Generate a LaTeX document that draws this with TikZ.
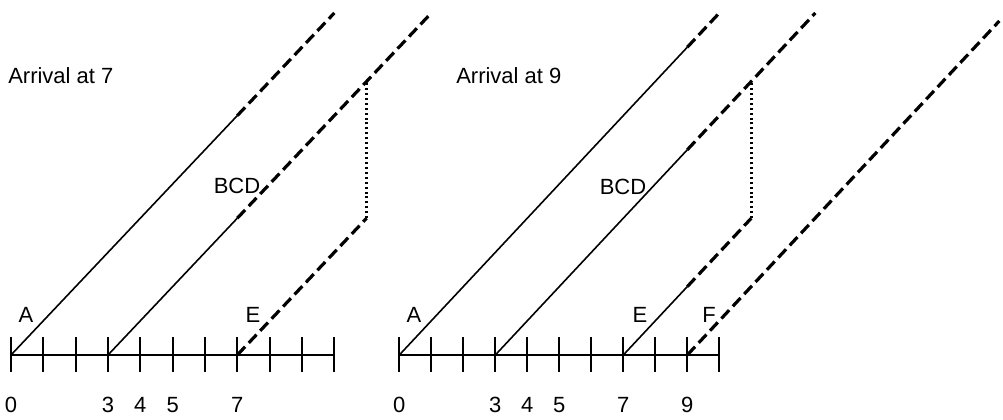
\documentclass[tikz,border=0pt]{standalone}
\usepackage{fontspec}
\setmainfont{Liberation Sans}
\begin{document}
\begin{tikzpicture}[x=0.75pt,y=-0.75pt,
  lbl/.style={inner sep=0pt,font=\fontsize{16.5}{19}\selectfont},
  axisline/.style={line width=2pt},
  tickline/.style={line width=1.5pt},
  run/.style={line width=1.2pt},
  wait/.style={line width=2.4pt,dash pattern=on 8.5pt off 4pt},
  gap/.style={line width=2pt,dash pattern=on 1.5pt off 2.2pt}]
\useasboundingbox (0,0) rectangle (1003,420);
% ---------- left panel ----------
\coordinate (L0) at (11,355);
\coordinate (L10) at (334.3,355);
\draw[axisline] (L0) -- (L10);
\foreach \k in {0,...,10}{\draw[tickline] ({11+32.33*\k},337) -- ({11+32.33*\k},372);}
\foreach \k/\n in {0/la0,3/la3,4/la4,5/la5,7/la7}{\node[lbl] (\n) at ({11+32.33*\k},405) {\k};}
\node[lbl,anchor=west] (ltitle) at (8,76) {Arrival at 7};
\coordinate (LA0) at (11,355);
\coordinate (LA7) at (237.3,115.6);
\coordinate (LA10) at (334.3,13);
\coordinate (LB3) at (108,355);
\coordinate (LB7) at (237.3,218.2);
\coordinate (LB11) at (366.6,81.4);
\coordinate (LB13) at (431.3,13);
\coordinate (LE7) at (237.3,355);
\coordinate (LE11) at (366.6,218.2);
\draw[run] (LA0) -- (LA7);
\draw[wait] (LA7) -- (LA10);
\draw[run] (LB3) -- (LB7);
\draw[wait] (LB7) -- (LB13);
\draw[wait] (LE7) -- (LE11);
\draw[gap] (LE11) -- (LB11);
\node[lbl] (lA) at (26,315) {A};
\node[lbl] (lBCD) at (237,186) {BCD};
\node[lbl] (lE) at (253,315) {E};
% ---------- right panel ----------
\coordinate (R0) at (399.3,355);
\coordinate (R10) at (719.3,355);
\draw[axisline] (R0) -- (R10);
\foreach \k in {0,...,10}{\draw[tickline] ({399.3+32*\k},337) -- ({399.3+32*\k},372);}
\foreach \k/\n in {0/ra0,3/ra3,4/ra4,5/ra5,7/ra7,9/ra9}{\node[lbl] (\n) at ({399.3+32*\k},405) {\k};}
\node[lbl,anchor=west] (rtitle) at (456,76) {Arrival at 9};
\coordinate (RA0) at (399.3,355);
\coordinate (RA9) at (687.3,47.2);
\coordinate (RA10) at (719.3,13);
\coordinate (RB3) at (495.3,355);
\coordinate (RB9) at (687.3,149.8);
\coordinate (RB11) at (751.3,81.4);
\coordinate (RB13) at (815.3,13);
\coordinate (RE7) at (623.3,355);
\coordinate (RE9) at (687.3,286.6);
\coordinate (RE11) at (751.3,218.2);
\coordinate (RF9) at (687.3,355);
\coordinate (RF19) at (999.3,21);
\draw[run] (RA0) -- (RA9);
\draw[wait] (RA9) -- (RA10);
\draw[run] (RB3) -- (RB9);
\draw[wait] (RB9) -- (RB13);
\draw[run] (RE7) -- (RE9);
\draw[wait] (RE9) -- (RE11);
\draw[gap] (RE11) -- (RB11);
\draw[wait] (RF9) -- (RF19);
\node[lbl] (rA) at (414,315) {A};
\node[lbl] (rBCD) at (623,187) {BCD};
\node[lbl] (rE) at (640,315) {E};
\node[lbl] (rF) at (709,315) {F};
\end{tikzpicture}
\end{document}
